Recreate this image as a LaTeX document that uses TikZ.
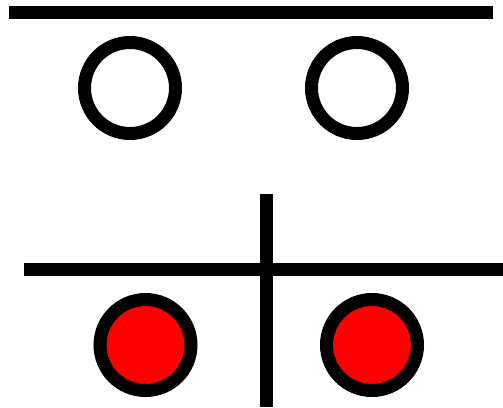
\documentclass[tikz,border=0pt]{standalone}
\begin{document}
\begin{tikzpicture}[x=1pt,y=-1pt,
  bar/.style={line width=13pt},
  ring/.style={circle,draw=black,line width=13pt,minimum size=91pt,inner sep=0pt},
  hollow/.style={ring,fill=white},
  redring/.style={ring,fill=red}]
\useasboundingbox (0,0) rectangle (503,407);
\coordinate (t1) at (9,12.5);
\coordinate (t2) at (493,12.5);
\draw[bar] (t1) -- (t2);
\node[hollow] (c1) at (130,88) {};
\node[hollow] (c2) at (357,88) {};
\coordinate (h1) at (24,269.5);
\coordinate (h2) at (503,269.5);
\coordinate (v1) at (266.5,194);
\coordinate (v2) at (266.5,407);
\draw[bar] (h1) -- (h2);
\draw[bar] (v1) -- (v2);
\node[redring] (r1) at (145.5,345) {};
\node[redring] (r2) at (372,345) {};
\end{tikzpicture}
\end{document}
